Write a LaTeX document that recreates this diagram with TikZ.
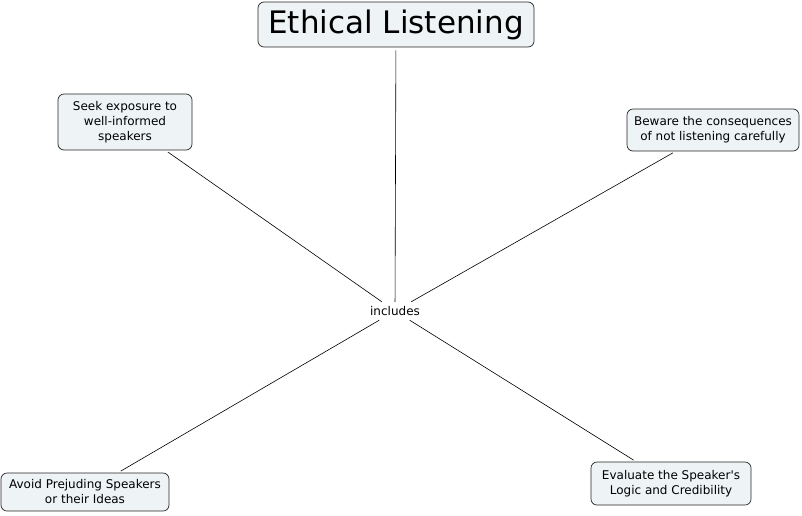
\documentclass[tikz,border=0pt]{standalone}
\usepackage{fontspec}
\setmainfont{DejaVu Sans}
\begin{document}
\begin{tikzpicture}[x=1pt,y=-1pt,
  concept/.style={draw=black!85, fill=boxfill, rounded corners=6pt, align=center,
    font=\fontsize{12}{15}\selectfont, inner sep=0pt, line width=0.7pt},
  link/.style={draw=black, line width=0.6pt, shorten <=3pt}]
\definecolor{boxfill}{HTML}{EEF3F5}
\useasboundingbox (0,0) rectangle (802,515);
\node[concept, minimum width=276pt, minimum height=45pt, font=\fontsize{31}{36}\selectfont] (title) at (396,24.5) {Ethical Listening};
\node[concept, minimum width=134pt, minimum height=56pt] (seek) at (125,122) {Seek exposure to\\well-informed\\speakers};
\node[concept, minimum width=172pt, minimum height=42pt] (beware) at (713,130) {Beware the consequences\\of not listening carefully};
\node[concept, minimum width=168pt, minimum height=38pt] (avoid) at (85,492) {Avoid Prejuding Speakers\\or their Ideas};
\node[concept, minimum width=160pt, minimum height=43pt] (eval) at (671,483.5) {Evaluate the Speaker\textquotesingle s\\Logic and Credibility};
\node[font=\fontsize{12}{15}\selectfont, inner sep=0pt, minimum width=52pt, minimum height=18pt] (inc) at (395,311) {includes};
\draw[link] (title) -- (inc);
\draw[link] (seek) -- (inc);
\draw[link] (beware) -- (inc);
\draw[link] (avoid) -- (inc);
\draw[link] (eval) -- (inc);
\end{tikzpicture}
\end{document}
